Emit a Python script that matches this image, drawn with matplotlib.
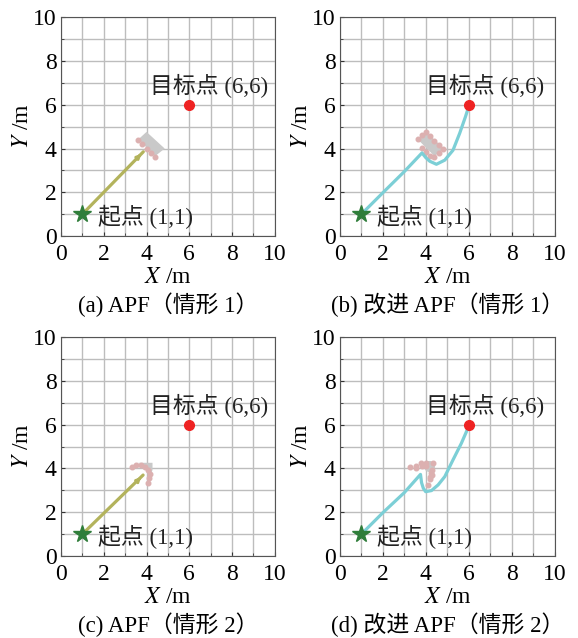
import matplotlib
matplotlib.use("Agg")
import matplotlib.pyplot as plt
from matplotlib.ticker import MultipleLocator
from matplotlib.patches import Polygon

plt.rcParams['font.family'] = ['Liberation Serif', 'Noto Sans CJK SC']
plt.rcParams['mathtext.fontset'] = 'stix'

# start / goal
start = (1, 1)
goal = (6, 6)

# paths
apf1_x = [1.0, 3.85]
apf1_y = [1.0, 3.85]
imp1_x = [1.0, 2.0, 3.0, 3.82, 4.0, 4.18, 4.49, 4.88, 5.26, 5.57, 5.84, 6.0]
imp1_y = [1.0, 1.98, 2.95, 3.80, 3.58, 3.42, 3.28, 3.47, 3.92, 4.69, 5.45, 5.94]
apf2_x = [1.0, 3.84]
apf2_y = [1.0, 3.70]
imp2_x = [1.0, 2.0, 3.0, 3.75, 3.80, 3.88, 3.99, 4.26, 4.57, 4.88, 5.26, 5.65, 6.0]
imp2_y = [1.0, 1.98, 2.90, 3.73, 3.35, 3.10, 2.94, 2.99, 3.25, 3.63, 4.39, 5.15, 5.94]

# obstacle (situation 1): rotated rectangle corners
obs1_x = [3.62, 4.0, 4.85, 4.4]
obs1_y = [4.42, 4.76, 4.0, 3.65]
# sensed points on obstacle 1
pts1a_x = [3.6, 3.8, 4.0, 4.2, 4.4]
pts1a_y = [4.4, 4.2, 4.0, 3.8, 3.6]
pts1b_x = [3.62, 3.8, 4.0, 4.2, 4.4, 4.6, 4.78, 4.6, 4.4, 4.2, 4.02, 3.82]
pts1b_y = [4.42, 4.6, 4.76, 4.56, 4.36, 4.16, 3.96, 3.78, 3.62, 3.66, 3.84, 4.02]

# obstacle (situation 2): fan shape
obs2_x = [3.61, 3.93, 4.08, 4.16, 4.13, 4.28, 4.28]
obs2_y = [4.26, 4.08, 3.93, 3.74, 3.55, 3.93, 4.26]
pts2a_x = [3.30, 3.50, 3.72, 3.93, 4.08, 4.16, 4.13, 4.08]
pts2a_y = [4.08, 4.16, 4.16, 4.08, 3.93, 3.74, 3.55, 3.32]
pts2b_x = [3.28, 3.56, 3.56, 3.79, 3.80, 3.99, 4.00, 4.33, 4.30, 4.30, 4.18, 4.10, 4.22, 4.18]
pts2b_y = [4.05, 4.13, 4.02, 4.24, 4.10, 4.27, 4.12, 4.27, 3.93, 3.70, 3.51, 3.25, 3.80, 3.62]

olive = '#b3b35c'
cyan = '#7ccfd6'
pink = '#dcb0b0'
gray = '#c9c9c9'

panels = [
    ([0.1055, 0.630, 0.370, 0.343], apf1_x, apf1_y, olive, obs1_x, obs1_y, pts1a_x, pts1a_y, True, '(a) APF（情形 1）', 4.15),
    ([0.588, 0.630, 0.372, 0.343], imp1_x, imp1_y, cyan, obs1_x, obs1_y, pts1b_x, pts1b_y, False, '(b) 改进 APF（情形 1）', 4.02),
    ([0.1055, 0.1285, 0.370, 0.343], apf2_x, apf2_y, olive, obs2_x, obs2_y, pts2a_x, pts2a_y, True, '(c) APF（情形 2）', 4.15),
    ([0.588, 0.1285, 0.372, 0.343], imp2_x, imp2_y, cyan, None, None, pts2b_x, pts2b_y, False, '(d) 改进 APF（情形 2）', 4.02),
]

fig = plt.figure(figsize=(5.78, 6.38), dpi=100)

for rect, px, py, col, ox, oy, sx, sy, arrow, caption, gx in panels:
    ax = fig.add_axes(rect)
    ax.set_xlim(0, 10)
    ax.set_ylim(0, 10)
    ax.xaxis.set_major_locator(MultipleLocator(2))
    ax.yaxis.set_major_locator(MultipleLocator(2))
    ax.xaxis.set_minor_locator(MultipleLocator(1))
    ax.yaxis.set_minor_locator(MultipleLocator(1))
    ax.grid(True, which='both', color='#bdbdbd', linewidth=1.0)
    ax.set_axisbelow(True)
    ax.tick_params(which='both', direction='in', labelsize=17, color='#333333')
    ax.tick_params(axis='x', pad=6)
    ax.tick_params(axis='y', pad=3)
    ax.tick_params(which='major', length=3)
    ax.tick_params(which='minor', length=2.5)
    for sp in ax.spines.values():
        sp.set_color('#555555')
        sp.set_linewidth(0.8)

    if ox is not None:
        ax.add_patch(Polygon(list(zip(ox, oy)), closed=True, facecolor=gray, edgecolor='none', zorder=2))
    else:
        ax.plot([4.15], [4.12], 'o', color=gray, markersize=7, zorder=2)
    ax.plot(sx, sy, 'o', color=pink, markersize=3.3, linestyle='none', zorder=3)

    ax.plot(px, py, color=col, linewidth=2.3, zorder=4, solid_capstyle='round')
    if arrow:
        ax.annotate('', xy=(px[-1], py[-1]), xytext=(px[-1] - 0.3, py[-1] - 0.3),
                    arrowprops=dict(arrowstyle='-|>', color=col, lw=2.0, mutation_scale=6), zorder=4)

    ax.plot([start[0]], [start[1]], marker='*', color='#2f7d3a', markersize=13, zorder=5)
    ax.plot([goal[0]], [goal[1]], marker='o', color='#ee2222', markersize=7, zorder=5)

    ax.text(gx, 6.85, '目标点 (6,6)', fontsize=16.5, va='center', ha='left', color='#222222')
    ax.text(1.75, 0.88, '起点 (1,1)', fontsize=16.5, va='center', ha='left', color='#222222')

    ax.set_xlabel('$X$ /m', fontsize=17, labelpad=1)
    ax.set_ylabel('$Y$ /m', fontsize=17, labelpad=0)

    cx = rect[0] + rect[2] / 2
    fig.text(cx, rect[1] - 0.107, caption, fontsize=16.5, ha='center', va='center')

fig.savefig('out.png', dpi=100)
